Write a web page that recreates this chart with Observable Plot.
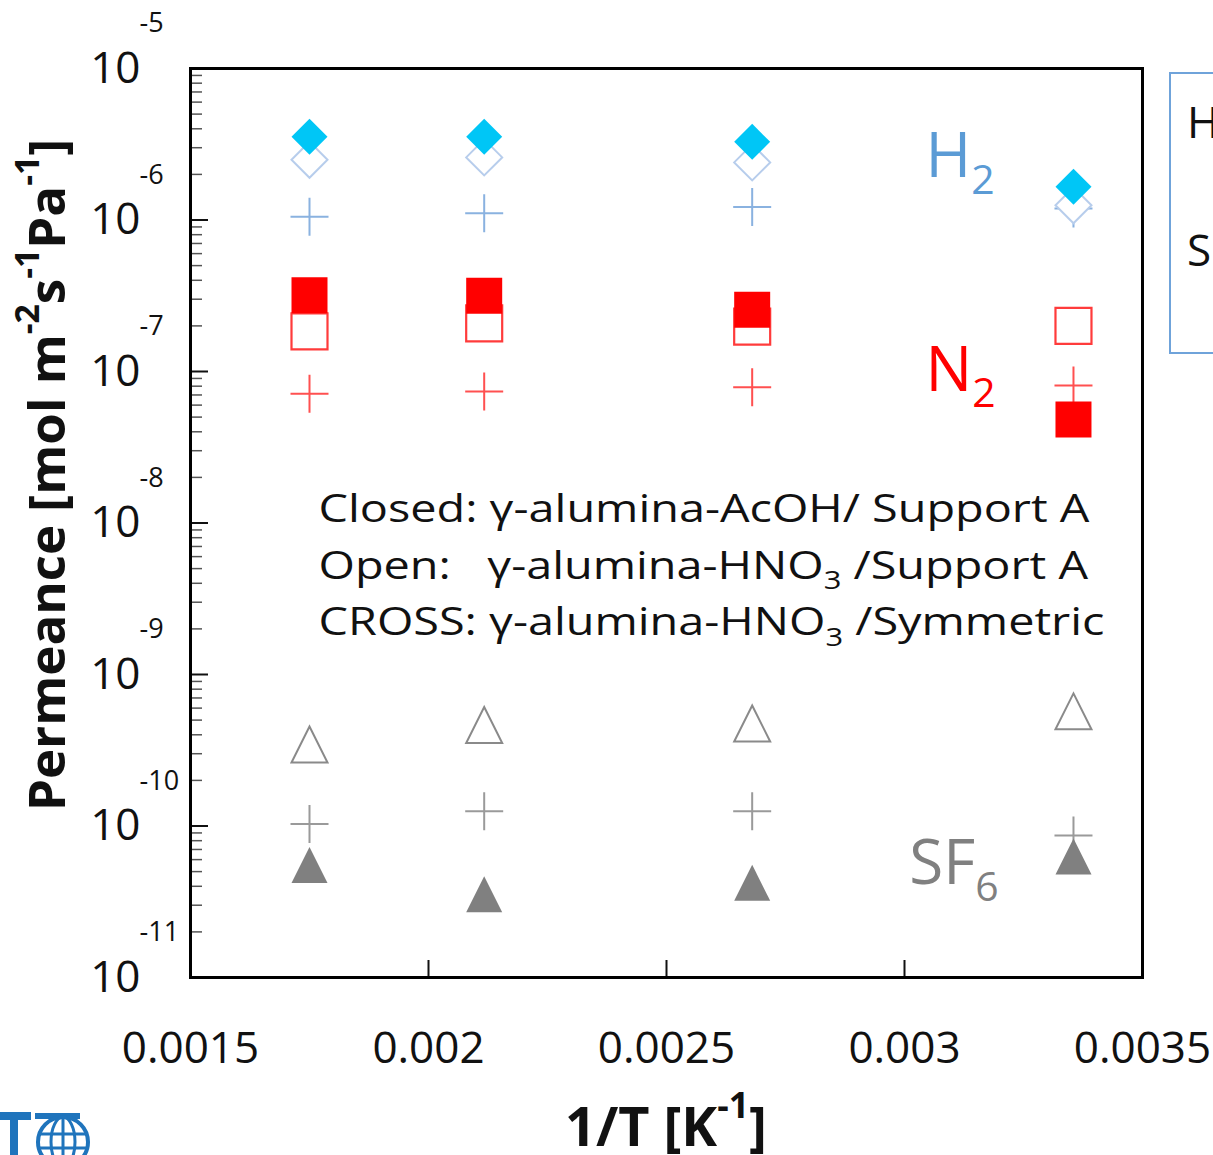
<!DOCTYPE html>
<html><head><meta charset="utf-8">
<script src="https://cdn.jsdelivr.net/npm/d3@7"></script>
<script src="https://cdn.jsdelivr.net/npm/@observablehq/plot@0.6"></script>
<style>
html,body{margin:0;padding:0;background:#fff;}
#chart{width:1213px;height:1155px;overflow:hidden;}
</style>
</head><body><div id="chart"></div>
<script>
// ---- data (1/T in K^-1, permeance in mol m-2 s-1 Pa-1) ----
const invT = [0.00175, 0.002117, 0.00268, 0.003355];
const h2Closed  = [3.55e-6, 3.55e-6, 3.28e-6, 1.66e-6];
const h2Open    = [2.50e-6, 2.59e-6, 2.40e-6, 1.25e-6];
const h2Cross   = [1.05e-6, 1.11e-6, 1.22e-6, 1.19e-6];
const n2Closed  = [3.19e-7, 3.16e-7, 2.56e-7, 4.83e-8];
const n2Open    = [1.84e-7, 2.08e-7, 1.98e-7, 2.00e-7];
const n2Cross   = [7.13e-8, 7.38e-8, 7.87e-8, 8.09e-8];
const sf6Closed = [5.53e-11, 3.54e-11, 4.22e-11, 6.29e-11];
const sf6Open   = [3.45e-10, 4.64e-10, 4.75e-10, 5.71e-10];
const sf6Cross  = [1.03e-10, 1.25e-10, 1.25e-10, 8.65e-11];

const xTicks = [0.0015, 0.002, 0.0025, 0.003, 0.0035];
const xTickLabels = ["0.0015", "0.002", "0.0025", "0.003", "0.0035"];
const xInnerTicks = [0.002, 0.0025, 0.003];
const yExponents = [-11, -10, -9, -8, -7, -6, -5];
const yTickLabels = ["-11", "-10", "-9", "-8", "-7", "-6", "-5"];

const gasLabels = [
  {text: "H₂", x: 0.003044, y: 1.92e-6, color: "#5B9BD5"},
  {text: "N₂", x: 0.003044, y: 7.49e-8, color: "#FF0000"},
  {text: "SF₆", x: 0.003010, y: 4.15e-11, color: "#808080"}
];
const noteLines = [
  {text: "Closed: γ-alumina-AcOH/ Support A", x: 0.001769, y: 1.023e-8},
  {text: "Open:\u00a0\u00a0\u00a0γ-alumina-HNO₃ /Support A", x: 0.001769, y: 4.30e-9},
  {text: "CROSS: γ-alumina-HNO₃ /Symmetric", x: 0.001769, y: 1.809e-9}
];

// ---- derived ----
const yTicks = yExponents.map(e => Math.pow(10, e));
const yMinor = [];
for (let e = -11; e < -5; e++) for (let k = 2; k <= 9; k++) yMinor.push(k * Math.pow(10, e));
const rows = vals => invT.map((x, i) => ({x, y: vals[i]}));

// ---- marker shapes (36px) ----
const S = 18;
const symSquare = {draw(c) { c.moveTo(-S, -S); c.lineTo(S, -S); c.lineTo(S, S); c.lineTo(-S, S); c.closePath(); }};
const symDiamond = {draw(c) { c.moveTo(0, -S); c.lineTo(S, 0); c.lineTo(0, S); c.lineTo(-S, 0); c.closePath(); }};
const symTriangle = {draw(c) { c.moveTo(0, -S); c.lineTo(S, S); c.lineTo(-S, S); c.closePath(); }};
const symPlus = {draw(c) { c.moveTo(-S - 1, 0); c.lineTo(S + 1, 0); c.moveTo(0, -S - 1); c.lineTo(0, S + 1); }};

const dot = (vals, symbol, fill, stroke, sw) =>
  Plot.dot(rows(vals), {x: "x", y: "y", symbol, r: 10, fill, stroke, strokeWidth: sw});

const FONT = "'Open Sans', 'Noto Sans', sans-serif";

const plot = Plot.plot({
  width: 1213,
  height: 1155,
  marginTop: 68,
  marginRight: 71,
  marginBottom: 178,
  marginLeft: 190,
  style: {fontFamily: FONT, background: "white", color: "#111"},
  x: {type: "linear", domain: [0.0015, 0.0035], axis: null},
  y: {type: "log", domain: [1e-11, 1e-5], axis: null},
  marks: [
    // inward ticks
    Plot.axisY({ticks: yMinor, tickSize: 12, dx: 12, tickFormat: () => "", label: null, stroke: "#555", strokeWidth: 1.5}),
    Plot.axisY({ticks: yTicks, tickSize: 18, dx: 18, tickFormat: () => "", label: null, stroke: "#111", strokeWidth: 2}),
    Plot.axisX({ticks: xInnerTicks, tickSize: 17, dy: -17, tickFormat: () => "", label: null, stroke: "#111", strokeWidth: 2}),
    // tick labels
    Plot.text(yTicks, {y: d => d, frameAnchor: "left", dx: -50, text: () => "10", textAnchor: "end", lineAnchor: "middle", fontSize: 44, fill: "#111"}),
    Plot.text(yTicks, {y: d => d, frameAnchor: "left", dx: -51, dy: -45, text: (d, i) => yTickLabels[i], textAnchor: "start", lineAnchor: "middle", fontSize: 27, fill: "#111"}),
    Plot.text(xTicks, {x: d => d, frameAnchor: "bottom", dy: 71, text: (d, i) => xTickLabels[i], lineAnchor: "middle", fontSize: 44, fill: "#111"}),
    // crosses
    dot(h2Cross, symPlus, "none", "#8AB2E0", 2),
    dot(n2Cross, symPlus, "none", "#FF5050", 2),
    dot(sf6Cross, symPlus, "none", "#9A9A9A", 2),
    // open
    dot(h2Open, symDiamond, "white", "#B7CDEC", 2),
    dot(n2Open, symSquare, "white", "#FF3B3B", 2.2),
    dot(sf6Open, symTriangle, "white", "#8A8A8A", 2),
    // closed
    dot(h2Closed, symDiamond, "#00C6F6", "none", 0),
    dot(n2Closed, symSquare, "#FF0000", "none", 0),
    dot(sf6Closed, symTriangle, "#808080", "none", 0),
    // annotations
    Plot.text(gasLabels, {x: "x", y: "y", text: "text", fill: "color", fontSize: 62, textAnchor: "start", lineAnchor: "bottom"}),
    Plot.text(noteLines, {x: "x", y: "y", text: "text", fontSize: 39, textAnchor: "start", lineAnchor: "bottom", fill: "#111"}),
    Plot.frame({stroke: "#000", strokeWidth: 3})
  ]
});

document.getElementById("chart").appendChild(plot);
const svg = d3.select(plot);

// drop the empty placeholder labels of the tick-only axes
svg.selectAll("text").filter(function () { return this.textContent === ""; }).remove();

// the note block is drawn horizontally stretched, as in the source figure
svg.selectAll("text").each(function () {
  const s = this.textContent;
  if (/^(Closed:|Open:|CROSS:)/.test(s)) {
    const tr = this.getAttribute("transform") || "";
    this.setAttribute("transform", tr + " scale(1.2,1)");
  }
});

// axis titles
svg.append("text")
  .attr("transform", "translate(45,475) rotate(-90)")
  .attr("text-anchor", "middle").attr("dominant-baseline", "central")
  .attr("font-family", FONT).attr("font-weight", "bold").attr("font-size", 51).attr("fill", "#111")
  .text("Permeance [mol m⁻²s⁻¹Pa⁻¹]");
svg.append("text")
  .attr("x", 666).attr("y", 1125)
  .attr("text-anchor", "middle").attr("dominant-baseline", "central")
  .attr("font-family", FONT).attr("font-weight", "bold").attr("font-size", 54).attr("fill", "#111")
  .text("1/T [K⁻¹]");

// cropped legend box on the right
const lg = svg.append("g").attr("text-anchor", "start");
lg.append("rect").attr("x", 1170).attr("y", 73).attr("width", 100).attr("height", 280)
  .attr("fill", "white").attr("stroke", "#6FA3DA").attr("stroke-width", 2);
lg.append("text").attr("x", 1187).attr("y", 138).attr("font-family", FONT).attr("font-size", 44).attr("fill", "#111").text("H₂");
lg.append("text").attr("x", 1187).attr("y", 266).attr("font-family", FONT).attr("font-size", 44).attr("fill", "#111").text("SF₆");

// logo (partly cropped)
const logo = svg.append("g").attr("fill", "none").attr("stroke", "#1F74BC");
logo.append("path").attr("d", "M0,1116 H31 M14,1116 V1155").attr("stroke-width", 8);
logo.append("path").attr("d", "M35,1116 H80").attr("stroke-width", 6);
logo.append("circle").attr("cx", 63).attr("cy", 1142).attr("r", 25).attr("stroke-width", 4);
logo.append("path").attr("d", "M38,1134 H88 M38,1148 H88 M63,1117 V1167").attr("stroke-width", 3);
logo.append("ellipse").attr("cx", 63).attr("cy", 1142).attr("rx", 12).attr("ry", 25).attr("stroke-width", 3);

// sub/superscripts
const SUB = {"₂": "2", "₃": "3", "₆": "6"};
const SUP = {"⁻": "-", "¹": "1", "²": "2"};
const NS = "http://www.w3.org/2000/svg";
function richify(root) {
  root.querySelectorAll("text").forEach(t => {
    const tsp = [...t.querySelectorAll("tspan")].filter(n => !n.children.length);
    const leaves = tsp.length ? tsp : [t];
    leaves.forEach(leaf => {
      const s = leaf.textContent;
      if (![...s].some(c => SUB[c] || SUP[c])) return;
      const fs = parseFloat(getComputedStyle(leaf).fontSize);
      const runs = [];
      for (const c of s) {
        const k = SUB[c] ? "sub" : SUP[c] ? "sup" : "n";
        const ch = SUB[c] || SUP[c] || c;
        if (runs.length && runs[runs.length - 1].k === k) runs[runs.length - 1].s += ch;
        else runs.push({k, s: ch});
      }
      leaf.textContent = "";
      let off = 0;
      for (const r of runs) {
        const target = r.k === "sub" ? fs * 0.27 : r.k === "sup" ? -fs * 0.38 : 0;
        const d = target - off;
        off = target;
        if (r.k === "n" && d === 0) {
          leaf.appendChild(document.createTextNode(r.s));
          continue;
        }
        const ts = document.createElementNS(NS, "tspan");
        ts.setAttribute("dy", d + "px");
        if (r.k !== "n") ts.setAttribute("font-size", (fs * 0.66) + "px");
        ts.textContent = r.s;
        leaf.appendChild(ts);
      }
      if (off) {
        const ts = document.createElementNS(NS, "tspan");
        ts.setAttribute("dy", (-off) + "px");
        ts.textContent = "\u200B";
        leaf.appendChild(ts);
      }
    });
  });
}
richify(plot);
</script>
</body></html>
